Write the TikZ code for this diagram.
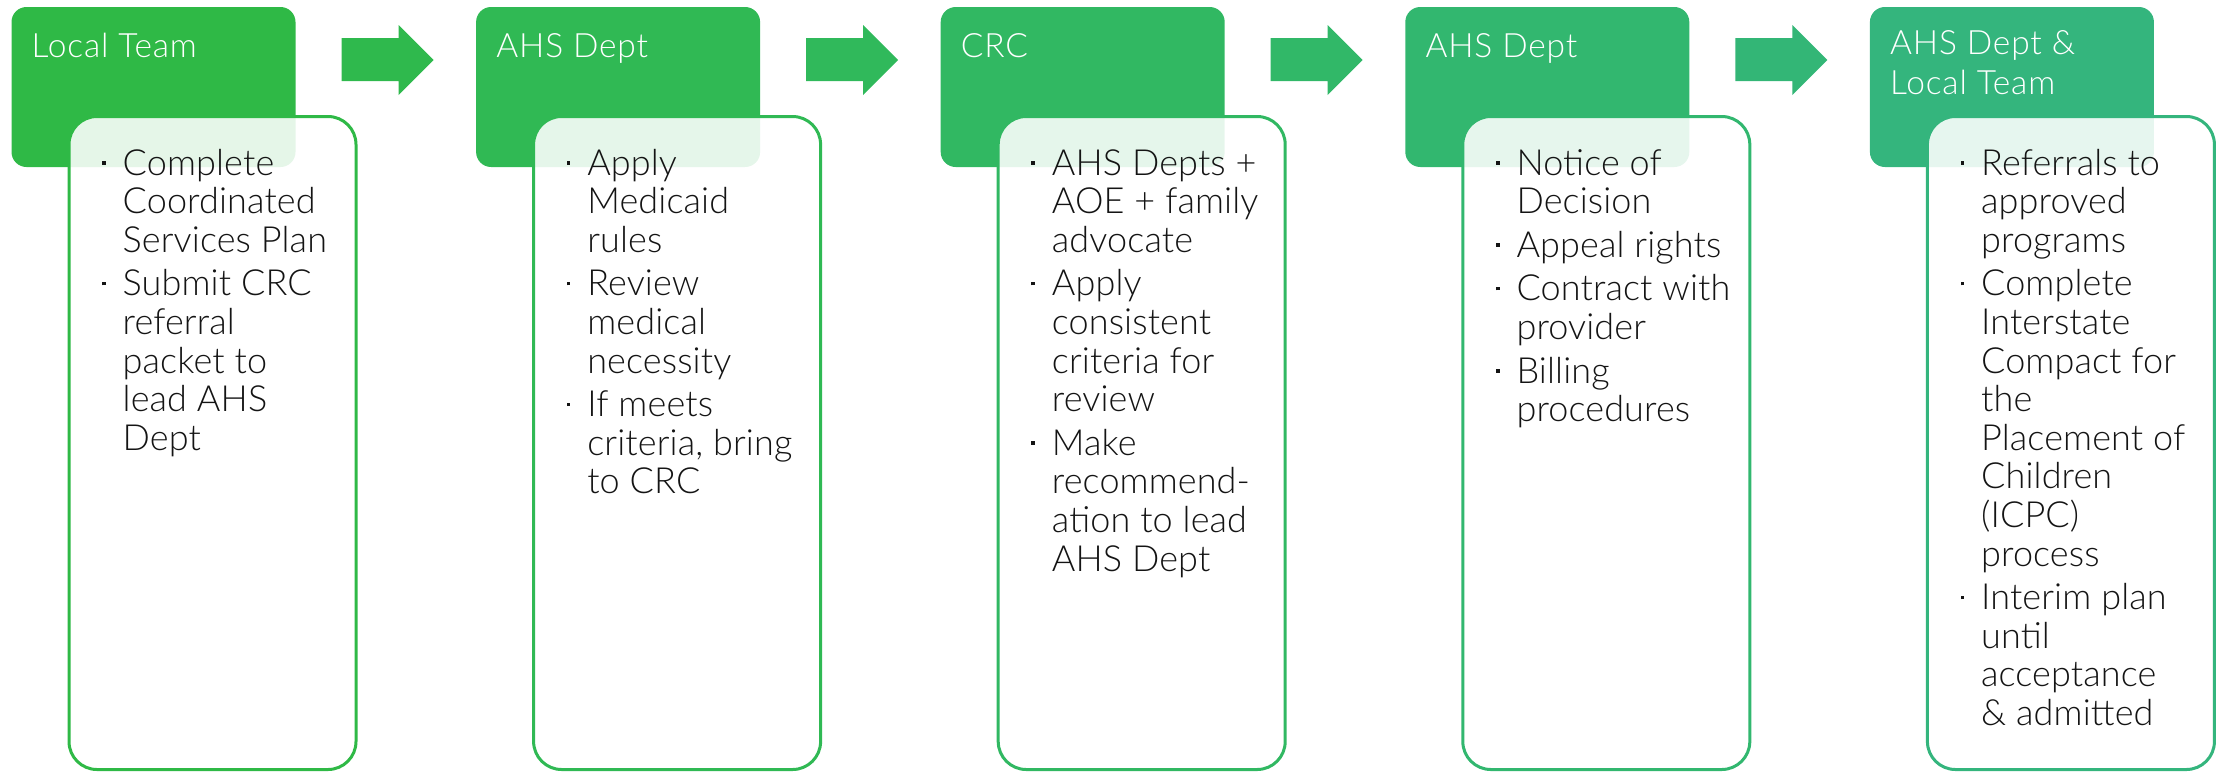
\documentclass[tikz,border=0pt]{standalone}
\usepackage{fontspec}
\newcommand\bsz{35}
\newcommand\hsz{32}
\let\headff\relax
\IfFontExistsTF{Lato Light}{\setmainfont{Lato Light}[LetterSpace=0.35]\newfontfamily\lathead{Lato Light}[LetterSpace=2.5]\let\headff\lathead\renewcommand\bsz{36}\renewcommand\hsz{33.5}}{%
 \IfFontExistsTF{Fira Sans Light}{\setmainfont{Fira Sans Light}\renewcommand\bsz{33.5}\renewcommand\hsz{31}}{%
  \IfFontExistsTF{Open Sans Light}{\setmainfont{Open Sans Light}\renewcommand\bsz{32}\renewcommand\hsz{29.5}}{%
   \IfFontExistsTF{Noto Sans Light}{\setmainfont{Noto Sans Light}\renewcommand\bsz{32.5}\renewcommand\hsz{30}}{%
    \setmainfont{Liberation Sans}}}}}
\definecolor{g1}{RGB}{47,185,70}
\definecolor{g2}{RGB}{48,185,84}
\definecolor{g3}{RGB}{49,184,98}
\definecolor{g4}{RGB}{50,183,111}
\definecolor{g5}{RGB}{52,181,125}
\definecolor{ga1}{RGB}{47,185,77}
\definecolor{ga2}{RGB}{48,185,91}
\definecolor{ga3}{RGB}{49,184,104}
\definecolor{ga4}{RGB}{51,182,118}
\definecolor{bodytext}{RGB}{20,20,20}
\newcommand\bodyfont{\fontsize{\bsz}{38.6}\selectfont}
\newcommand\headfont{\headff\fontsize{\hsz}{40}\selectfont}
\newcommand\bitem[1]{\par\hangindent=23pt\hangafter=1\noindent\makebox[23pt][l]{\hspace{2.5pt}\raisebox{10.5pt}{\rule{3.5pt}{3.5pt}}}#1}
\newcommand\blist[1]{\parbox[t]{320pt}{\bodyfont\setlength\parskip{5pt}\setlength\parfillskip{0pt plus 1fil}#1}}
\tikzset{
  headbox/.style={fill=#1, draw=none, rounded corners=15pt, minimum width=284pt,
    minimum height=160pt, anchor=north west, inner sep=0pt, outer sep=0pt},
  bodybox/.style={draw=#1, line width=3pt, fill=white, fill opacity=0.88,
    rounded corners=28pt, minimum width=287pt, minimum height=653pt,
    anchor=north west, inner sep=0pt, outer sep=0pt},
  headtext/.style={text=white, inner sep=0pt, anchor=base west, font=\headfont, align=left},
  bodytxt/.style={text=bodytext, inner sep=0pt, anchor=base west},
  blockarrow/.style={fill=#1, draw=none}
}
\begin{document}
\begin{tikzpicture}[x=1pt,y=-1pt]
\useasboundingbox (0,0) rectangle (2218,772);
% stage x origins: 11.5, 476.1, 940.7, 1405.3, 1869.9
\foreach \X/\c [count=\i] in {11.5/g1,476.1/g2,940.7/g3,1405.3/g4,1869.9/g5}{
  \node[headbox=\c] (h\i) at (\X,7) {};
  \node[bodybox=\c] (b\i) at (\X+57.5,116.5) {};
}
\foreach \X/\c [count=\i] in {11.5/ga1,476.1/ga2,940.7/ga3,1405.3/ga4}{
  \fill[blockarrow=\c] (\X+330,38) -- (\X+387,38) -- (\X+387,25) -- (\X+422,60)
     -- (\X+387,95) -- (\X+387,81) -- (\X+330,81) -- cycle;
}
% header texts
\node[headtext] (t1) at (11.5+20,57) {Local Team};
\node[headtext] (t2) at (476.1+20,57) {AHS Dept};
\node[headtext] (t3) at (940.7+20,57) {CRC};
\node[headtext] (t4) at (1405.3+20,57) {AHS Dept};
\node[headtext, anchor=base west] (t5) at (1869.9+20,54) {\parbox[t]{260pt}{\headfont AHS Dept \&\\Local Team}};
% body texts
\node[bodytxt] (l1) at (11.5+88,175) {\blist{%
  \bitem{Complete\\Coordinated\\Services Plan}
  \bitem{Submit CRC\\referral\\packet to\\lead AHS\\Dept}}};
\node[bodytxt] (l2) at (476.1+88,175) {\blist{%
  \bitem{Apply\\Medicaid\\rules}
  \bitem{Review\\medical\\necessity}
  \bitem{If meets\\criteria, bring\\to CRC}}};
\node[bodytxt] (l3) at (940.7+88,175) {\blist{%
  \bitem{AHS Depts +\\AOE + family\\advocate}
  \bitem{Apply\\consistent\\criteria for\\review}
  \bitem{Make\\recommend-\\ation to lead\\AHS Dept}}};
\node[bodytxt] (l4) at (1405.3+88,175) {\blist{%
  \bitem{Notice of\\Decision}
  \bitem{Appeal rights}
  \bitem{Contract with\\provider}
  \bitem{Billing\\procedures}}};
\node[bodytxt] (l5) at (1869.9+88,175) {\blist{%
  \bitem{Referrals to\\approved\\programs}
  \bitem{Complete\\Interstate\\Compact for\\the\\Placement of\\Children\\(ICPC)\\process}
  \bitem{Interim plan\\until\\acceptance\\\& admitted}}};
\end{tikzpicture}
\end{document}
